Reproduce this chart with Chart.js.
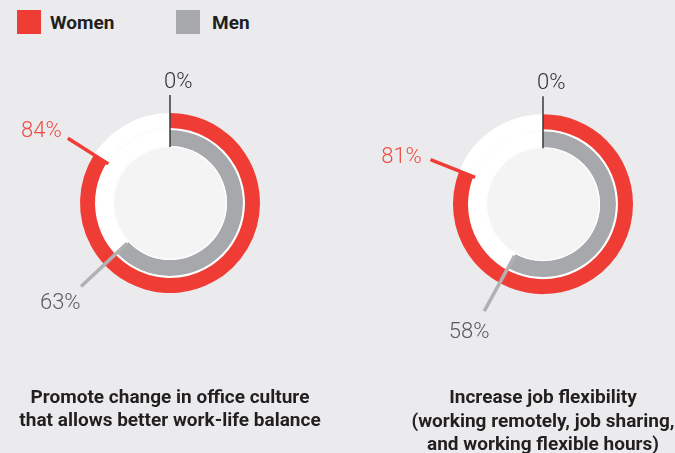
<!DOCTYPE html>
<html>
<head>
<meta charset="utf-8">
<script src="https://cdn.jsdelivr.net/npm/chart.js@4.4.1/dist/chart.umd.min.js"></script>
<style>
    html, body { margin: 0; padding: 0; width: 675px; height: 453px; overflow: hidden; background: #ebebee; }
    .legend { position: absolute; top: 10px; height: 24px; display: flex; align-items: center;
              font: bold 19px Roboto, sans-serif; color: #231f20; }
    .legend span { display: inline-block; width: 24px; height: 24px; }
    canvas { position: absolute; top: 0; }
</style>
</head>
<body>
<div class="legend" style="left:17px"><span style="background:#ef3d35;margin-right:9px"></span>Women</div>
<div class="legend" style="left:176px"><span style="background:#a7a8ab;margin-right:12px"></span>Men</div>
<canvas id="chart0" width="340" height="457" style="left:-3px"></canvas>
<canvas id="chart1" width="340" height="457" style="left:373px"></canvas>
<script>
// Data
const categories = [
    ['Promote change in office culture', 'that allows better work-life balance'],
    ['Increase job flexibility', '(working remotely, job sharing,', 'and working flexible hours)']
];
const women = [84, 81];
const men = [63, 58];
const startLabel = '0%';

const RED = '#ef3d35';
const GRAY = '#a7a8ab';

// Draws the light centre, the leader lines and the value labels
const leaderPlugin = {
    id: 'leaders',
    afterDatasetsDraw(chart) {
        const ctx = chart.ctx;
        const redArc = chart.getDatasetMeta(0).data[0];
        const grayArc = chart.getDatasetMeta(2).data[0];
        const cx = redArc.x, cy = redArc.y;
        const idx = chart.options.plugins.leaders.index;

        ctx.save();
        // centre disc
        ctx.beginPath();
        ctx.arc(cx, cy, grayArc.innerRadius, 0, Math.PI * 2);
        ctx.fillStyle = '#ffffff';
        ctx.fill();
        ctx.beginPath();
        ctx.arc(cx, cy, grayArc.innerRadius - 1.2, 0, Math.PI * 2);
        ctx.fillStyle = '#f4f4f4';
        ctx.fill();

        const line = (angle, r1, r2, color, width) => {
            ctx.beginPath();
            ctx.moveTo(cx + Math.cos(angle) * r1, cy + Math.sin(angle) * r1);
            ctx.lineTo(cx + Math.cos(angle) * r2, cy + Math.sin(angle) * r2);
            ctx.strokeStyle = color;
            ctx.lineWidth = width;
            ctx.stroke();
        };

        // start marker (0%)
        const start = redArc.startAngle;
        line(start, grayArc.innerRadius - 1, redArc.outerRadius + 18, '#3a3a3a', 1.5);

        // women leader
        const wAng = redArc.endAngle;
        line(wAng, redArc.innerRadius - 2, redArc.outerRadius + 31, RED, 3.5);
        // men leader
        const mAng = grayArc.endAngle;
        line(mAng, grayArc.innerRadius + 2, redArc.outerRadius + 32, '#b0b1b3', 3.5);

        ctx.font = '300 22px Roboto, sans-serif';
        ctx.textBaseline = 'middle';
        ctx.textAlign = 'left';
        ctx.fillStyle = '#333333';
        ctx.fillText(startLabel, cx - 6, cy - redArc.outerRadius - 31);

        ctx.textAlign = 'center';
        ctx.fillStyle = '#ef4b43';
        ctx.fillText(women[idx] + '%', cx + Math.cos(wAng) * 150 - 2, cy + Math.sin(wAng) * 150 + 9);
        ctx.fillStyle = '#5a5a5c';
        ctx.fillText(men[idx] + '%', cx + Math.cos(mAng) * 145 - 4, cy + Math.sin(mAng) * 145 + 1);
        ctx.restore();
    }
};

const paddings = [{ left: 6, top: 19.75 }, { top: 21.75 }];
const titlePad = [23.75, 0];

categories.forEach((title, i) => {
    new Chart(document.getElementById('chart' + i), {
        type: 'doughnut',
        data: {
            labels: ['value', 'rest'],
            datasets: [
                { label: 'Women', data: [women[i], 100 - women[i]], backgroundColor: [RED, '#ffffff'], weight: 15, borderWidth: 0 },
                { label: 'gap', data: [100], backgroundColor: ['#ffffff'], weight: 2, borderWidth: 0 },
                { label: 'Men', data: [men[i], 100 - men[i]], backgroundColor: [GRAY, '#ffffff'], weight: 16, borderWidth: 0 }
            ]
        },
        options: {
            responsive: false,
            animation: false,
            radius: 90,
            cutout: '63.33%',
            layout: { padding: paddings[i] },
            plugins: {
                legend: { display: false },
                tooltip: { enabled: false },
                leaders: { index: i },
                title: {
                    display: true,
                    position: 'bottom',
                    text: title,
                    color: '#231f20',
                    font: { family: 'Roboto', size: 19, weight: 'bold', lineHeight: 23.5 / 19 },
                    padding: { top: 0, bottom: titlePad[i] }
                }
            }
        },
        plugins: [leaderPlugin]
    });
});
</script>
</body>
</html>
